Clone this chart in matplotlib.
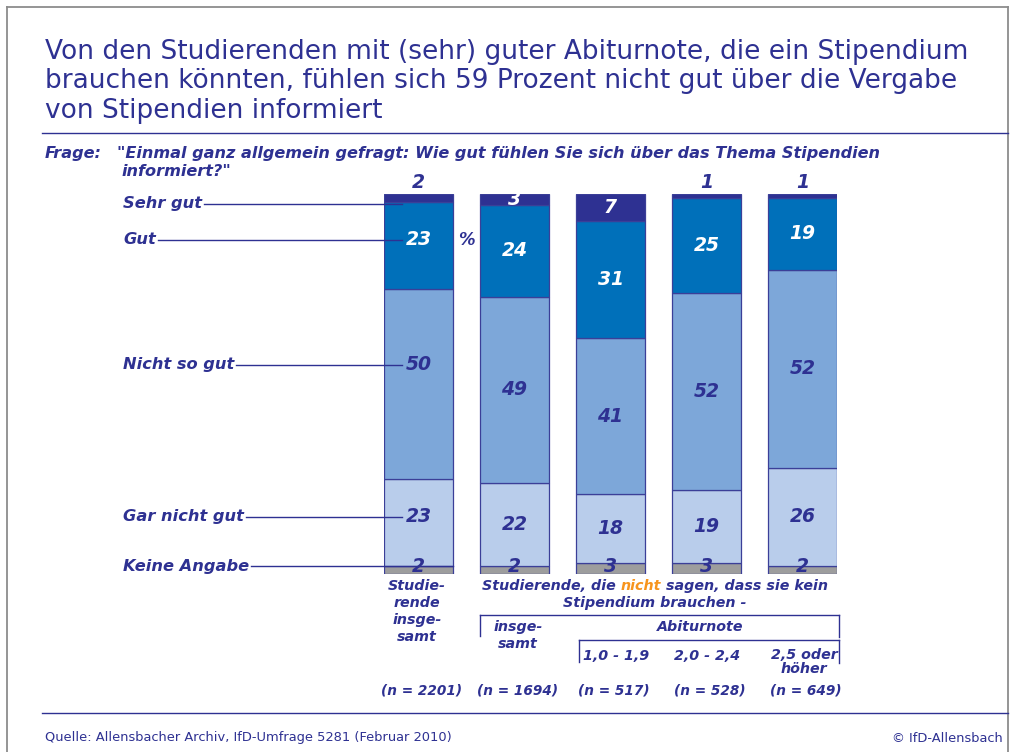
import matplotlib
matplotlib.use("Agg")
import matplotlib.pyplot as plt
from matplotlib.lines import Line2D
from matplotlib.transforms import blended_transform_factory
import numpy as np

# ---------------- data ----------------
categories = ["Keine Angabe", "Gar nicht gut", "Nicht so gut", "Gut", "Sehr gut"]  # bottom -> top
keine_angabe = [2, 2, 3, 3, 2]
gar_nicht_gut = [23, 22, 18, 19, 26]
nicht_so_gut = [50, 49, 41, 52, 52]
gut = [23, 24, 31, 25, 19]
sehr_gut = [2, 3, 7, 1, 1]
n_values = [2201, 1694, 517, 528, 649]

title_lines = ["Von den Studierenden mit (sehr) guter Abiturnote, die ein Stipendium",
               "brauchen könnten, fühlen sich 59 Prozent nicht gut über die Vergabe",
               "von Stipendien informiert"]

# ---------------- style ----------------
NAVY = "#2E3192"
ORANGE = "#F7941D"
colors = ["#9D9D9D", "#B9CDEB", "#7DA7D9", "#0070BA", "#2E3192"]
text_colors = [NAVY, NAVY, NAVY, "white", "white"]
W, H = 1010, 752

plt.rcParams['font.family'] = ['DejaVu Sans']
fig = plt.figure(figsize=(W / 100, H / 100), dpi=100)
fig.patch.set_facecolor("white")


def fx(x):
    return x / W


def fy(y):
    return 1 - y / H


def hline(x0, x1, y, color=NAVY, lw=1.0):
    fig.add_artist(Line2D([fx(x0), fx(x1)], [fy(y), fy(y)], color=color, lw=lw,
                          transform=fig.transFigure))


def vline(x, y0, y1, color=NAVY, lw=1.0):
    fig.add_artist(Line2D([fx(x), fx(x)], [fy(y0), fy(y1)], color=color, lw=lw,
                          transform=fig.transFigure))


# frame
GRAY = "#8C8C8C"
vline(7, 7, 752, GRAY, 1.3)
vline(1008, 7, 752, GRAY, 1.3)
hline(7, 1008, 7, GRAY, 1.3)
hline(42, 1008, 133, NAVY, 1.0)
hline(42, 1008, 713, NAVY, 1.0)

# title
for i, line in enumerate(title_lines):
    fig.text(fx(45), fy(59 + 29.5 * i), line, fontsize=19, color=NAVY,
             va="baseline", ha="left")

bi = dict(fontweight="bold", fontstyle="italic", color=NAVY)
fig.text(fx(45), fy(158), "Frage:", fontsize=11.6, va="baseline", **bi)
fig.text(fx(117), fy(158), "\"Einmal ganz allgemein gefragt: Wie gut fühlen Sie sich über das Thema Stipendien",
         fontsize=11.6, va="baseline", **bi)
fig.text(fx(121), fy(176), "informiert?\"", fontsize=11.6, va="baseline", **bi)

# ---------------- bars ----------------
bar_left, bar_right, bar_top, bar_bottom = 384, 837, 194, 574
ax = fig.add_axes([fx(bar_left), fy(bar_bottom), (bar_right - bar_left) / W,
                   (bar_bottom - bar_top) / H])
ax.set_axis_off()
x = np.arange(len(n_values))
width = 0.719
half = width / 2
ax.set_xlim(-half, len(n_values) - 1 + half)
ax.set_ylim(0, 100)

series = [keine_angabe, gar_nicht_gut, nicht_so_gut, gut, sehr_gut]
bottom = np.zeros(len(n_values))
mids = []
for vals, c in zip(series, colors):
    vals = np.array(vals, dtype=float)
    ax.bar(x, vals, bottom=bottom, width=width, color=c, edgecolor="#3B3F98",
           linewidth=0.9, zorder=2)
    mids.append(bottom + vals / 2)
    bottom = bottom + vals

# label positions for the first column (aligned with the leader lines)
leader_y = [2.1, 15.0, 55.0, 87.9, 97.4]
first_col_y = [2.1, 15.0, 55.0, 87.9, None]

for si, vals in enumerate(series):
    for bi_, v in enumerate(vals):
        if si == 4 and v <= 2:
            ax.text(x[bi_], 100.6, f"{v}", ha="center", va="bottom", fontsize=13.5,
                    fontweight="bold", fontstyle="italic", color=NAVY, zorder=5, clip_on=False)
            continue
        yv = mids[si][bi_]
        if si == 0:
            yv = leader_y[0]
        if bi_ == 0 and first_col_y[si] is not None:
            yv = first_col_y[si]
        ax.text(x[bi_], yv, f"{v}", ha="center", va="center", fontsize=13.5,
                fontweight="bold", fontstyle="italic", color=text_colors[si], zorder=5,
                clip_on=False)

# percent sign
ax.text(0.5, 87.9, "%", ha="center", va="center", fontsize=12, fontweight="bold",
        fontstyle="italic", color=NAVY)

# category labels with leader lines
fig.canvas.draw()
renderer = fig.canvas.get_renderer()
trans_lab = blended_transform_factory(fig.transFigure, ax.transData)
leader_end = [half, -0.17, -0.17, -0.17, -0.17]
inv = fig.transFigure.inverted()
for cat, ly, xe in zip(categories, leader_y, leader_end):
    t = fig.text(fx(123), ly, cat, transform=trans_lab, fontsize=11.7, ha="left",
                 va="center", zorder=6, **bi)
    bb = t.get_window_extent(renderer)
    end_disp = ax.transData.transform((xe, ly))
    p0 = inv.transform((bb.x1 + 2, end_disp[1]))
    p1 = inv.transform(end_disp)
    fig.add_artist(Line2D([p0[0], p1[0]], [p0[1], p1[1]], color=NAVY, lw=1.0,
                          transform=fig.transFigure, zorder=6))

# ---------------- bottom labels ----------------
fs = 10.3


def text_width(s):
    tt = fig.text(0, 0, s + "x", fontsize=fs, fontweight="bold", fontstyle="italic")
    w1 = tt.get_window_extent(renderer).width
    tt.remove()
    tt = fig.text(0, 0, "x", fontsize=fs, fontweight="bold", fontstyle="italic")
    w2 = tt.get_window_extent(renderer).width
    tt.remove()
    return w1 - w2


fig.text(fx(417), fy(579), "Studie-\nrende\ninsge-\nsamt", fontsize=fs, ha="center",
         va="top", linespacing=1.27, **bi)

# "Studierende, die nicht sagen, dass sie kein" with orange "nicht"
parts = [("Studierende, die ", NAVY), ("nicht", ORANGE), (" sagen, dass sie kein", NAVY)]
total_w = text_width("".join(p[0] for p in parts))
start_px = 655 - total_w / 2
acc = ""
for s, c in parts:
    off = text_width(acc) if acc else 0
    fig.text(fx(start_px + off), fy(586), s, fontsize=fs, fontweight="bold",
             fontstyle="italic", color=c, ha="left", va="center")
    acc += s
fig.text(fx(655), fy(603), "Stipendium brauchen -", fontsize=fs, ha="center", va="center", **bi)

# brackets
hline(480, 839, 615)
vline(480, 615, 636)
vline(839, 615, 637)
hline(579, 839, 640)
vline(579, 640, 662)
vline(839, 640, 663)

fig.text(fx(518), fy(620), "insge-\nsamt", fontsize=fs, ha="center", va="top",
         linespacing=1.25, **bi)
fig.text(fx(700), fy(627), "Abiturnote", fontsize=fs, ha="center", va="center", **bi)
fig.text(fx(616), fy(656), "1,0 - 1,9", fontsize=fs, ha="center", va="center", **bi)
fig.text(fx(707), fy(656), "2,0 - 2,4", fontsize=fs, ha="center", va="center", **bi)
fig.text(fx(804), fy(648), "2,5 oder\nhöher", fontsize=fs, ha="center", va="top",
         linespacing=0.98, **bi)

trans_n = blended_transform_factory(ax.transData, fig.transFigure)
for xi, n in zip(x, n_values):
    ax.text(xi + 0.03, fy(690), f"(n = {n})", transform=trans_n, fontsize=9.8,
            ha="center", va="center", clip_on=False, **bi)

# footer
fig.text(fx(45), fy(738), "Quelle: Allensbacher Archiv, IfD-Umfrage 5281 (Februar 2010)",
         fontsize=9.4, color=NAVY, ha="left", va="center")
fig.text(fx(1003), fy(738), "© IfD-Allensbach", fontsize=9.4, color=NAVY, ha="right",
         va="center")

fig.savefig("out.png", dpi=100)
